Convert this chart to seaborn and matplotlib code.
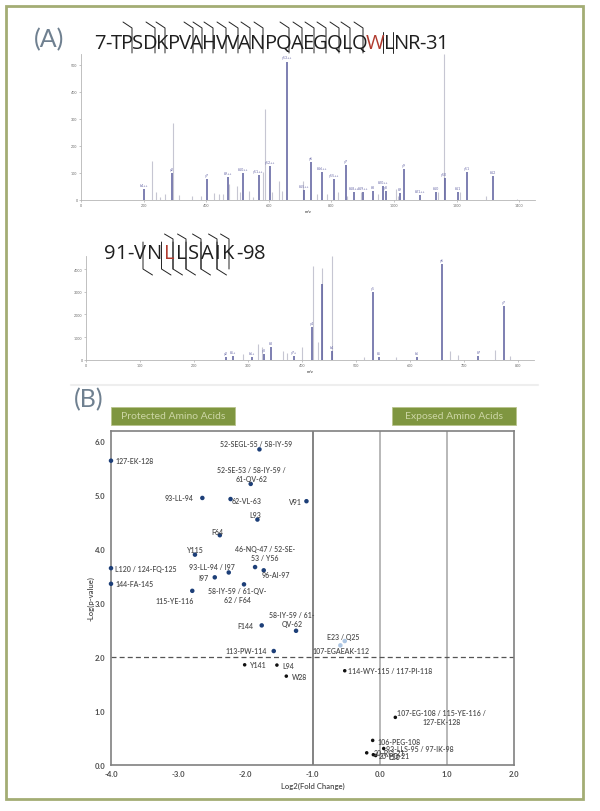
import matplotlib
matplotlib.use("Agg")
import matplotlib.pyplot as plt
import pandas as pd
import seaborn as sns
from matplotlib.patches import Rectangle

# ── Data ──────────────────────────────────────────────────────────────────────

top_mz = [200, 291, 403, 468, 518, 567, 604, 659, 712, 733, 771, 807, 846, 873, 900,
          933, 964, 974, 1019, 1032, 1084, 1134, 1161, 1204, 1232, 1317]
top_int = [40, 100, 77, 83, 100, 91, 126, 512, 37, 138, 101, 77, 128, 30, 27,
           33, 52, 33, 25, 114, 17, 27, 79, 27, 101, 89]
top_ions = ["b4++", "y2", "y7", "b9++", "b10++", "y11++", "y12++", "y13++", "b15++", "y6",
            "b16++", "y15++", "y7", "b18++", "b19++", "b8", "b20++", "y8", "b9", "y9",
            "b21++", "b10", "y10", "b11", "y11", "b12"]
top_bg_mz = [228, 240, 252, 269, 295, 313, 356, 383, 426, 441, 453, 472, 499, 507, 535, 549,
             582, 587, 609, 633, 643, 710, 753, 785, 822, 849, 894, 950, 1006, 1014, 1140,
             1160, 1212, 1293, 1392]
top_bg_int = [144, 30, 9, 21, 286, 19, 15, 12, 25, 21, 21, 58, 49, 27, 31, 9,
              104, 338, 27, 70, 33, 70, 21, 21, 27, 15, 27, 21, 40, 15, 27,
              540, 27, 15, 3]

bot_mz = [260, 272, 308, 330, 343, 386, 419, 437, 456, 531, 542, 613, 660, 727, 774]
bot_int = [100, 150, 100, 250, 550, 150, 1440, 3320, 400, 3000, 100, 100, 4220, 180, 2370]
bot_ions = ["y2", "b5+", "b6+", "y3", "b3", "y7+", "y4", "", "b4", "y5", "b5", "b6", "y6", "b7", "y7"]
bot_bg_mz = [290, 319, 326, 365, 373, 401, 420, 429, 437, 456, 515, 574, 674, 689, 757, 786]
bot_bg_int = [250, 700, 550, 400, 280, 550, 4130, 770, 4030, 4600, 100, 130, 400, 200, 430, 150]

volcano_names = [
    "127-EK-128", "52-SEGL-55 / 58-IY-59", "52-SE-53 / 58-IY-59 /\n61-QV-62", "93-LL-94",
    "62-VL-63", "V91", "L93", "F64", "Y115", "46-NQ-47 / 52-SE-\n53 / Y56", "96-AI-97",
    "93-LL-94 / I97", "I97", "L120 / 124-FQ-125", "144-FA-145", "58-IY-59 / 61-QV-\n62 / F64",
    "115-YE-116", "F144", "58-IY-59 / 61-\nQV-62", "113-PW-114", "E23 / Q25", "107-EGAEAK-112",
    "Y141", "L94", "W28", "114-WY-115 / 117-PI-118", "107-EG-108 / 115-YE-116 /\n127-EK-128",
    "106-PEG-108", "93-LLS-95 / 97-IK-98", "20-RQ-21", "20-PQ-21", "L20",
]
volcano_fc = [-4.0, -1.79, -1.92, -2.64, -2.22, -1.09, -1.82, -2.38, -2.75, -1.855, -1.726,
              -2.247, -2.455, -4.0, -4.0, -2.02, -2.79, -1.756, -1.245, -1.577, -0.52, -0.585,
              -2.01, -1.53, -1.39, -0.52, 0.233, -0.104, 0.06, -0.193, -0.094, -0.06]
volcano_p = [5.63, 5.84, 5.20, 4.94, 4.92, 4.88, 4.54, 4.25, 3.89, 3.66, 3.60,
             3.56, 3.47, 3.64, 3.35, 3.34, 3.22, 2.58, 2.48, 2.105, 2.29, 2.21,
             1.85, 1.845, 1.64, 1.74, 0.877, 0.45, 0.30, 0.22, 0.185, 0.17]
volcano_group = ["sig"] * 20 + ["pale"] * 2 + ["ns"] * 10

# label offsets from their point, in pixels (right, up)
label_dx = [24, -3, 1, -23, 16, -12, -2, -2, 0, 10, 12, -17, -11, 35, 24, -7, -18, -16, -4, -28,
            -2, 1, 14, 11, 13, 45, 46, 26, 36, 23, 21, 19]
label_dy = [0, 6, 10, 0, -1, 0, 5, 4, 5, 14, -4, 6, 0, 0, 0, -11, -10, 0, 12, 1,
            5, -5, 0, 0, 0, 0, 0, -1, 0, 0, -1, -1]

# ── Layout helpers ────────────────────────────────────────────────────────────

W, H = 600, 812
DARK = "#1f1f1f"
RED = "#b03a2e"
BLUE_GREY = "#6f8090"
OLIVE = "#7f9640"
LABEL = "#4d4d4d"


def px_axes(fig, left, top, right, bottom):
    return fig.add_axes([left / W, 1 - bottom / H, (right - left) / W, (bottom - top) / H])


def draw_spectrum(ax, mz, inten, ions, bg_mz, bg_int, xticks, yticks, xlim, ylim):
    ax.vlines(bg_mz, 0, bg_int, color="#c6c6d2", lw=0.8)
    ax.vlines(mz, 0, inten, color="#5a5d9c", lw=1.1)
    for x, y, ion in zip(mz, inten, ions):
        ax.annotate(ion, (x, y), xytext=(0, 1.5), textcoords="offset points",
                    ha="center", va="bottom", fontsize=2.6, color="#6a6aa8")
    ax.set_xlim(*xlim)
    ax.set_ylim(*ylim)
    ax.set_xticks(xticks)
    ax.set_yticks(yticks)
    ax.tick_params(length=1.5, width=0.4, labelsize=2.6, pad=1, color="#999999", labelcolor="#666666",
                   bottom=True, left=True)
    ax.set_xlabel("m/z", fontsize=2.8, fontweight="bold", labelpad=1, color="#555555")
    sns.despine(ax=ax)
    ax.spines["left"].set_color("#b5b5b5")
    ax.spines["bottom"].set_color("#b5b5b5")
    ax.spines["left"].set_linewidth(0.6)
    ax.spines["bottom"].set_linewidth(0.6)
    ax.patch.set_alpha(0)


def draw_sequence(ov, fig, parts, x, y, size):
    # parts drawn one after the other so a single residue can be red
    renderer = fig.canvas.get_renderer()
    for chunk, color, tracking in parts:
        for ch in chunk:
            t = ov.text(x, y, ch, fontsize=size, color=color, family="Open Sans", va="center", ha="left")
            x = t.get_window_extent(renderer).x1 + tracking


# ── Figure ────────────────────────────────────────────────────────────────────

sns.set_theme(style="white")
plt.rcParams["font.family"] = ["Lato", "DejaVu Sans"]

fig = plt.figure(figsize=(W / 100, H / 100), dpi=100, facecolor="white")

# overlay in pixel units for frame, headers and fragment brackets
ov = fig.add_axes([0, 0, 1, 1], zorder=5)
ov.set_xlim(0, W)
ov.set_ylim(H, 0)
ov.axis("off")
ov.patch.set_alpha(0)

ov.add_patch(Rectangle((6, 7), 577, 792.5, fill=False, ec="#a3ad74", lw=2))
ov.plot([71, 538], [385.5, 385.5], color="#eeeeee", lw=1.5)
ov.text(34, 40, "(A)", fontsize=18, color=BLUE_GREY, va="center", ha="left")
ov.text(74, 400, "(B)", fontsize=18, color=BLUE_GREY, va="center", ha="left")

draw_sequence(ov, fig, [("7-TPSDKPVAHVVANPQAEGQLQ", DARK, -0.85), ("W", RED, -0.85), ("LNR-31", DARK, -0.85)],
              94.5, 44, 14.5)
draw_sequence(ov, fig, [("91-", DARK, 0), ("VN", DARK, 1.6), ("L", RED, 1.6), ("LSAIK", DARK, 1.6), ("-98", DARK, 0)],
              104, 254, 14.5)

# fragment brackets, peptide A
for x in [132, 155, 165, 193, 202, 213, 226, 238, 250, 263, 289, 302, 314, 326, 339, 350, 363]:
    ov.plot([x - 9, x, x], [23, 29, 54], color="#222222", lw=0.7)
for x in [383, 393]:
    ov.plot([x, x], [33, 54], color="#222222", lw=0.7)

# fragment brackets, peptide B
for x in [143, 161.5, 173, 186, 201, 217]:
    ov.plot([x, x, x + 9.5], [243, 270, 276], color="#222222", lw=0.7)
for x in [173, 186, 201, 217, 229]:
    ov.plot([x - 8.5, x, x], [235, 240, 270], color="#222222", lw=0.7)

# header boxes
for x0, x1, label in [(111, 235, "Protected Amino Acids"), (392, 516, "Exposed Amino Acids")]:
    ov.add_patch(Rectangle((x0, 408), x1 - x0, 17.5, fc=OLIVE, ec="#b9c48c", lw=0.6))
    ov.text((x0 + x1) / 2, 417, label, fontsize=7.5, color="#cdd6a6", ha="center", va="center")

# ── (A) spectra ───────────────────────────────────────────────────────────────

ax_top = px_axes(fig, 81, 55, 535, 200.7)
draw_spectrum(ax_top, top_mz, top_int, top_ions, top_bg_mz, top_bg_int,
              [0, 200, 400, 600, 800, 1000, 1200, 1400], [0, 100, 200, 300, 400, 500],
              (0, 1450), (0, 540))

ax_bot = px_axes(fig, 86, 256.5, 534, 360.7)
draw_spectrum(ax_bot, bot_mz, bot_int, bot_ions, bot_bg_mz, bot_bg_int,
              [0, 100, 200, 300, 400, 500, 600, 700, 800], [0, 1000, 2000, 3000, 4000],
              (0, 830), (0, 4600))

# ── (B) volcano ───────────────────────────────────────────────────────────────

volcano = pd.DataFrame({"fc": volcano_fc, "p": volcano_p, "group": volcano_group})

ax = px_axes(fig, 111, 432, 514, 765.7)
ax.set_xlim(-4, 2)
ax.set_ylim(0, 6.18)

ax.axvline(-1, color="#6e6e6e", lw=1.2, zorder=1)
ax.axvline(0, color="#ababab", lw=1.2, zorder=1)
ax.axvline(1, color="#ababab", lw=1.2, zorder=1)
ax.axhline(2, color="#555555", lw=0.9, ls=(0, (4, 2.5)), zorder=1)

sns.scatterplot(
    data=volcano, x="fc", y="p", hue="group", size="group", ax=ax, legend=False,
    palette={"sig": "#1d3f78", "pale": "#adc6e3", "ns": "#111111"},
    sizes={"sig": 10.5, "pale": 10.5, "ns": 6.5},
    linewidth=0, clip_on=False, zorder=3,
)

for name, x, y, dx, dy in zip(volcano_names, volcano_fc, volcano_p, label_dx, label_dy):
    ax.annotate(name, (x, y), xytext=(dx, dy), textcoords="offset pixels",
                ha="center", va="center", fontsize=5, color=LABEL, fontweight="semibold",
                linespacing=1.35, zorder=4)

ax.set_xticks([-4, -3, -2, -1, 0, 1, 2])
ax.set_yticks([0, 1, 2, 3, 4, 5, 6])
ax.set_xticklabels([f"{v:.1f}" for v in ax.get_xticks()])
ax.set_yticklabels([f"{v:.1f}" for v in ax.get_yticks()])
ax.tick_params(length=0, labelsize=5.5, labelcolor=LABEL, pad=4)
for lab in ax.get_xticklabels() + ax.get_yticklabels():
    lab.set_fontweight("bold")
ax.set_xlabel("Log2(Fold Change)", fontsize=5.6, color=LABEL, fontweight="semibold", labelpad=3)
ax.set_ylabel("-Log(p-value)", fontsize=5.6, color=LABEL, fontweight="semibold", labelpad=0)
for spine in ax.spines.values():
    spine.set_color("#808080")
    spine.set_linewidth(1.2)
ax.patch.set_alpha(0)

fig.savefig("out.png", dpi=100)
